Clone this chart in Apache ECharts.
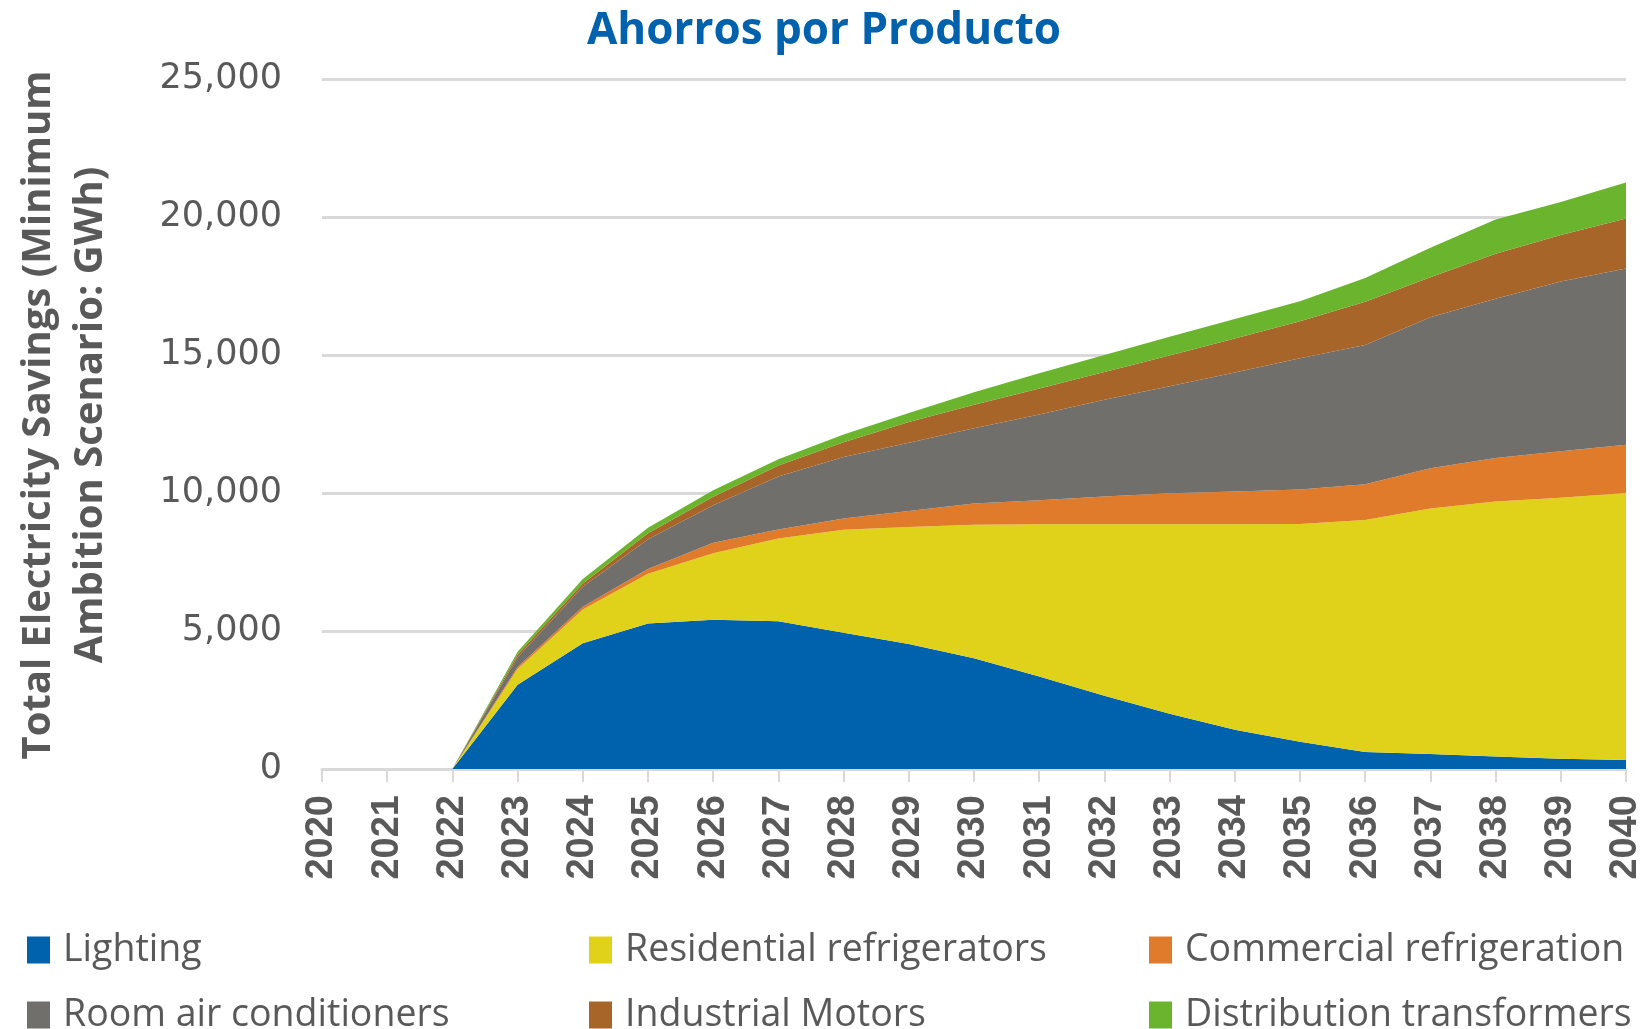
<!DOCTYPE html>
<html>
<head>
<meta charset="utf-8">
<script src="https://cdn.jsdelivr.net/npm/echarts@6/dist/echarts.min.js"></script>
<style>
html,body{margin:0;padding:0;background:#fff;}
#chart{width:1648px;height:1029px;}
</style>
</head>
<body>
<div id="chart"></div>
<script>
const years = ['2020','2021','2022','2023','2024','2025','2026','2027','2028','2029','2030','2031','2032','2033','2034','2035','2036','2037','2038','2039','2040'];
const lighting      = [0,0,0,3050,4560,5270,5410,5350,4940,4530,4010,3350,2650,2000,1420,990,620,540,450,370,330];
const resFridges    = [0,0,0,570,1220,1800,2410,3000,3730,4240,4840,5520,6220,6870,7450,7890,8400,8900,9240,9460,9670];
const commRefrig    = [0,0,0,80,100,180,380,330,410,580,770,870,1000,1120,1180,1250,1300,1460,1580,1680,1750];
const roomAC        = [0,0,0,350,720,1070,1360,1920,2220,2470,2730,3100,3510,3880,4320,4750,5040,5470,5770,6150,6380];
const indMotors     = [0,0,0,100,120,220,300,400,540,750,850,950,1000,1110,1230,1340,1570,1450,1630,1690,1820];
const distTransf    = [0,0,0,100,160,200,240,220,280,330,450,550,620,680,700,730,860,1070,1240,1190,1300];
const yTicks = [0,5000,10000,15000,20000,25000];

const names = ['Lighting','Residential refrigerators','Commercial refrigeration','Room air conditioners','Industrial Motors','Distribution transformers'];
const colors = ['#0061AD','#E0D21A','#E17B2C','#706F6C','#A8652A','#6AB42E'];
const dataSets = [lighting,resFridges,commRefrig,roomAC,indMotors,distTransf];

const legendPos = [
  {left:27, top:930},{left:589, top:930},{left:1149, top:930},
  {left:27, top:995},{left:589, top:995},{left:1149, top:995}
];

const chart = echarts.init(document.getElementById('chart'));
chart.setOption({
  animation:false,
  backgroundColor:'#ffffff',
  title:{
    text:'Ahorros por Producto',
    left:'center', top:4,
    textStyle:{fontFamily:'Open Sans',fontWeight:'bold',fontSize:44,color:'#0061AD'}
  },
  legend: names.map((n,i)=>({
    data:[n], left:legendPos[i].left, top:legendPos[i].top,
    icon:'rect', itemWidth:23, itemHeight:27, padding:0,
    textStyle:{fontFamily:'Open Sans',fontSize:37.5,color:'#595959',lineHeight:40,padding:[0,0,0,8]}
  })),
  grid:{left:322, right:22, top:79, bottom:260, containLabel:false, outerBoundsMode:'none'},
  xAxis:{
    type:'category', data:years, boundaryGap:false,
    axisLine:{show:true,lineStyle:{color:'#d9d9d9',width:3}},
    axisTick:{show:true,alignWithLabel:true,length:13,lineStyle:{color:'#d9d9d9',width:2}},
    axisLabel:{rotate:90,margin:26,interval:0,fontFamily:'Liberation Sans',fontWeight:'bold',fontSize:38,color:'#595959'},
    splitLine:{show:false}
  },
  yAxis:{
    type:'value', min:0, max:25000, interval:5000,
    name:'Total Electricity Savings (Minimum\nAmbition Scenario: GWh)',
    nameLocation:'middle', nameGap:205, nameRotate:90,
    nameTextStyle:{fontFamily:'Open Sans',fontWeight:'bold',fontSize:40,color:'#595959',lineHeight:52,padding:[0,0,0,18]},
    axisLine:{show:false}, axisTick:{show:false},
    axisLabel:{margin:40,fontFamily:'DejaVu Sans',fontSize:35,color:'#595959',
      formatter:v=> yTicks.includes(v) ? v.toLocaleString('en-US') : ''},
    splitLine:{lineStyle:{color:'#d9d9d9',width:3}}
  },
  series: names.map((n,i)=>({
    name:n, type:'line', stack:'total', data:dataSets[i],
    symbol:'none', showSymbol:false,
    lineStyle:{width:0}, itemStyle:{color:colors[i]},
    areaStyle:{color:colors[i],opacity:1}
  }))
});
</script>
</body>
</html>
